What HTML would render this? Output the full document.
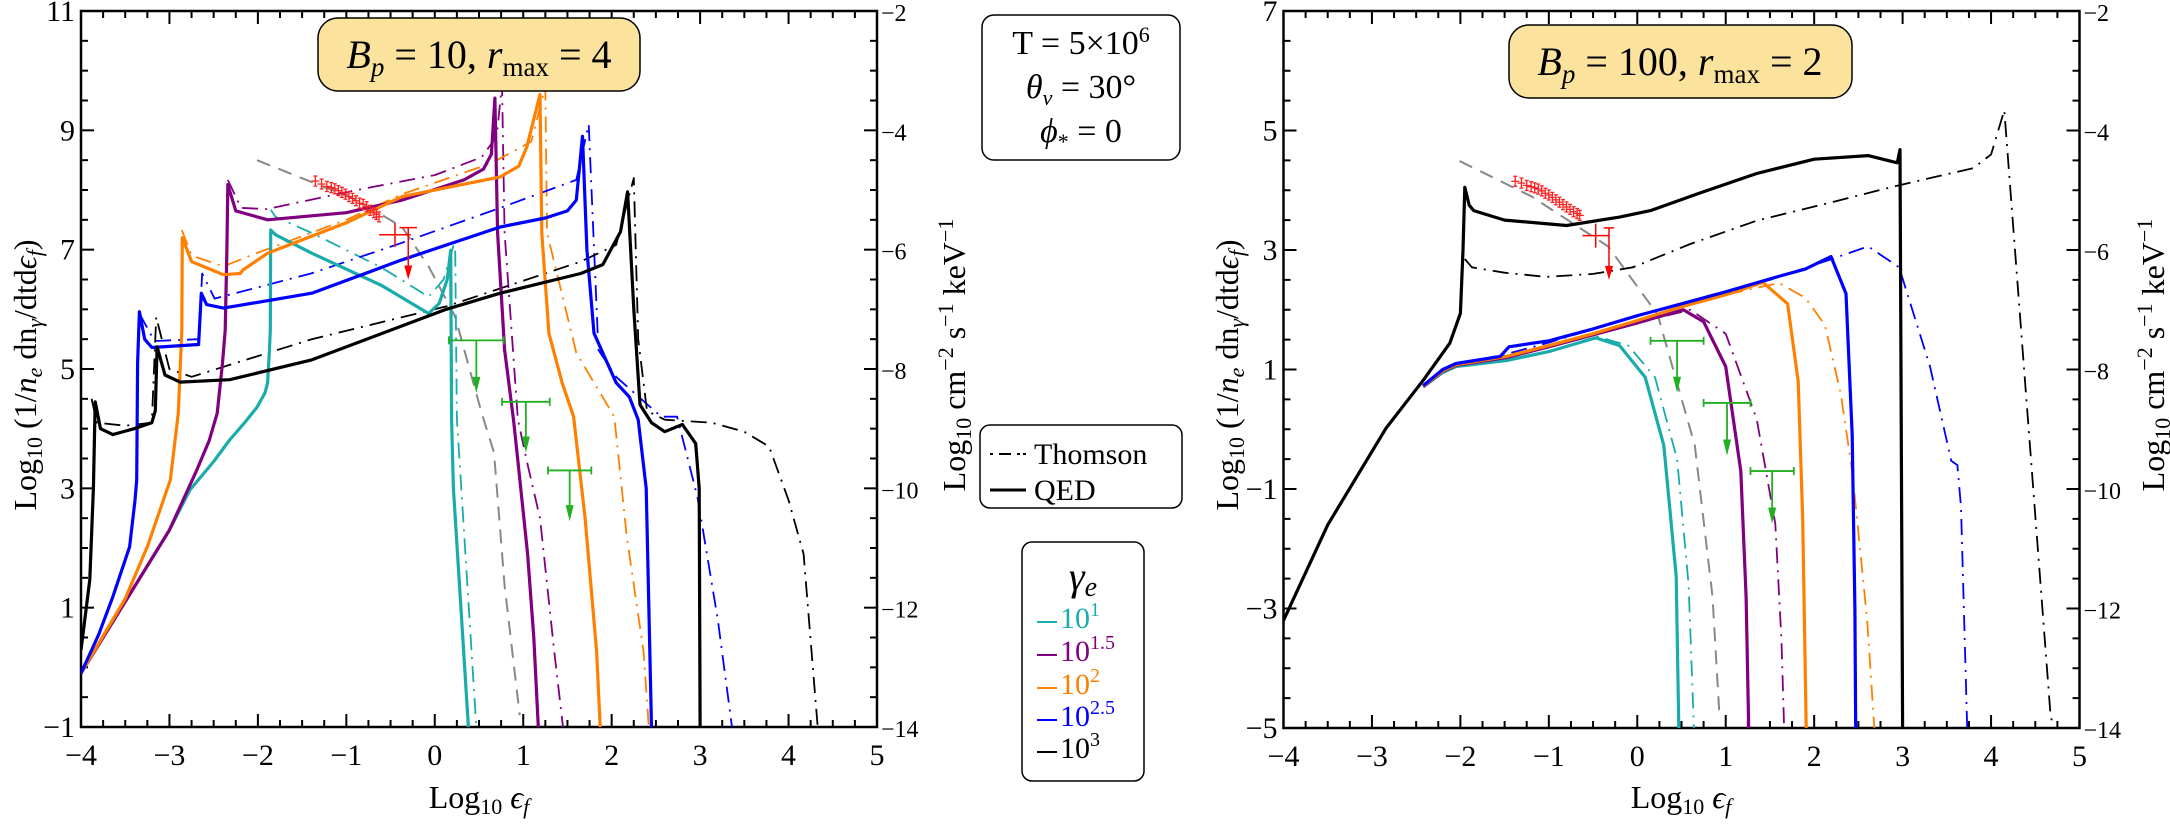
<!DOCTYPE html>
<html><head><meta charset="utf-8"><style>
html,body{margin:0;padding:0;background:#fff;}
svg text{font-family:"Liberation Serif",serif;}
</style></head><body>
<svg id="chart" xmlns="http://www.w3.org/2000/svg" width="2170" height="821" viewBox="0 0 2170 821">
<defs>
<clipPath id="clipL"><rect x="81" y="11" width="796" height="716"/></clipPath>
<clipPath id="clipR"><rect x="1283.5" y="11" width="796" height="717"/></clipPath>
</defs>
</svg>
<script>
// ---------- LEFT PANEL DATA (Bp=10, rmax=4) ----------
const L_qed_1 = [[-4,-0.1],[-3.5,1.1],[-3,2.3],[-2.77,2.97],[-2.5,3.45],[-2.32,3.81],[-2.15,4.1],[-2.01,4.36],[-1.92,4.6],[-1.89,4.77],[-1.87,5.3],[-1.86,5.65],[-1.855,7.33],[-1.8,7.25],[-1.39,6.94],[-0.6,6.4],[-0.07,5.93],[0.05,6.1],[0.14,6.5],[0.18,6.99],[0.19,4.15],[0.21,3.0],[0.38,-1]];
const L_th_1 = [[-1.855,7.67],[-1.8,7.55],[-1.39,7.28],[-0.6,6.7],[-0.07,6.21],[0.1,6.5],[0.23,7.16],[0.25,4.15],[0.3,3.0],[0.47,-1]];
const L_qed_15 = [[-4,-0.1],[-3.5,1.1],[-3,2.3],[-2.69,3.31],[-2.55,3.8],[-2.46,4.26],[-2.40,5.1],[-2.37,5.65],[-2.35,7.0],[-2.34,8.09],[-2.25,7.65],[-1.89,7.5],[-1.0,7.62],[-0.37,7.83],[0.33,8.17],[0.55,8.35],[0.64,8.6],[0.68,9.54],[0.71,7.28],[0.79,5.32],[0.89,4.15],[0.93,3.6],[1.05,1.9],[1.12,0.5],[1.17,-1]];
const L_th_15 = [[-2.34,8.17],[-2.19,7.7],[-1.9,7.68],[-0.88,8.0],[0.0,8.25],[0.53,8.55],[0.7,8.9],[0.76,9.77],[0.79,7.28],[0.94,4.15],[1.05,3.4],[1.19,2.5],[1.35,0.27],[1.45,-1]];
const L_qed_2 = [[-4,-0.1],[-3.5,1.15],[-3.25,2.02],[-2.99,3.14],[-2.9,4.26],[-2.86,5.65],[-2.855,7.2],[-2.75,6.8],[-2.39,6.58],[-2.2,6.6],[-2.17,6.66],[-1.89,6.94],[-1.0,7.45],[-0.37,7.89],[0.74,8.22],[0.95,8.4],[1.04,8.72],[1.19,9.6],[1.21,7.28],[1.29,5.6],[1.44,4.77],[1.57,4.2],[1.7,2.5],[1.83,0.27],[1.87,-1]];
const L_th_2 = [[-2.86,7.33],[-2.75,6.9],[-2.39,6.72],[-2.0,6.95],[-1.0,7.5],[-0.37,7.93],[0.64,8.45],[1.09,8.81],[1.25,9.73],[1.27,7.28],[1.6,5.27],[2.03,4.2],[2.17,2.2],[2.36,0.27],[2.42,-1]];
const L_qed_25 = [[-4,-0.1],[-3.8,0.55],[-3.64,1.18],[-3.45,2.02],[-3.39,2.8],[-3.37,3.14],[-3.36,5.1],[-3.34,5.96],[-3.28,5.5],[-3.2,5.36],[-2.67,5.41],[-2.64,6.27],[-2.58,6.08],[-2.39,6.02],[-1.39,6.27],[-0.37,6.83],[0.74,7.38],[1.25,7.53],[1.5,7.65],[1.6,7.83],[1.67,8.9],[1.72,7.0],[1.8,5.6],[2.05,4.77],[2.2,4.53],[2.3,4.15],[2.39,3.0],[2.45,-1]];
const L_th_25 = [[-3.34,5.93],[-3.17,5.47],[-2.67,5.5],[-2.63,6.6],[-2.49,6.18],[-1.4,6.6],[-0.4,7.1],[0.74,7.7],[1.6,8.17],[1.74,9.1],[1.85,5.32],[2.05,4.87],[2.56,4.2],[2.74,4.2],[2.97,2.85],[3.2,0.8],[3.36,-1]];
const L_qed_3 = [[-4,0.29],[-3.9,1.47],[-3.86,3.0],[-3.84,4.45],[-3.78,4.0],[-3.64,3.9],[-3.4,4.0],[-3.2,4.1],[-3.16,4.3],[-3.14,5.37],[-3.05,4.9],[-2.88,4.78],[-2.32,4.82],[-1.4,5.15],[0.13,6.0],[0.74,6.27],[1.65,6.6],[1.9,6.75],[2.1,7.3],[2.18,7.97],[2.25,6.0],[2.32,4.4],[2.45,4.1],[2.6,3.95],[2.8,4.07],[2.95,3.75],[2.99,3.0],[3.0,-1]];
const L_th_3 = [[-3.88,4.5],[-3.82,4.1],[-3.5,4.05],[-3.2,4.1],[-3.15,5.87],[-3.0,5.0],[-2.75,4.87],[-1.39,5.5],[0.13,6.05],[1.65,6.8],[2.05,7.08],[2.25,8.2],[2.3,5.5],[2.4,4.3],[2.6,4.15],[3.13,4.1],[3.5,3.95],[3.78,3.7],[4.0,2.8],[4.17,1.9],[4.33,-1]];
const L_gray = [[-2.01,8.5],[-0.88,7.83],[-0.37,7.38],[-0.07,6.72],[0.23,5.88],[0.53,4.26],[0.67,3.6],[0.79,1.37],[0.96,-0.8]];
const L_data_x = [-1.35,-1.28,-1.22,-1.17,-1.13,-1.09,-1.05,-1.01,-0.97,-0.93,-0.89,-0.85,-0.81,-0.77,-0.73,-0.69,-0.66,-0.63];
const L_data_y = [8.15,8.1,8.06,8.04,8.02,7.99,7.96,7.93,7.89,7.86,7.82,7.78,7.76,7.72,7.66,7.62,7.59,7.55];
const L_lim_red = [[-0.45,7.25,0.18],[-0.30,7.37,0.1]];
const L_lim_green_x0 = [0.16,0.76,1.28];
const L_lim_green_x1 = [0.78,1.30,1.77];
const L_lim_green_y = [5.48,4.45,3.3];
const L_lim_green_tip = [4.6,3.6,2.45];

// ---------- RIGHT PANEL DATA (Bp=100, rmax=2) ----------
const R_qed_3 = [[-4,-3.2],[-3.5,-1.6],[-2.84,0.02],[-2.42,0.82],[-2.12,1.44],[-2.0,1.94],[-1.97,3.0],[-1.95,4.05],[-1.9,3.75],[-1.85,3.66],[-1.5,3.5],[-0.8,3.41],[-0.2,3.55],[0.15,3.66],[0.7,3.95],[1.35,4.28],[2.0,4.52],[2.61,4.58],[2.94,4.46],[2.97,4.68],[3.0,-5]];
const R_th_3 = [[-1.95,2.85],[-1.87,2.71],[-1.5,2.62],[-1.03,2.55],[-0.5,2.6],[-0.05,2.71],[0.6,3.1],[1.35,3.49],[2.2,3.8],[2.92,4.07],[3.8,4.37],[4.0,4.6],[4.15,5.34],[4.4,0.5],[4.67,-4.73],[4.7,-5]];
const R_qed_1 = [[-2.42,0.71],[-2.2,0.95],[-2.05,1.05],[-1.48,1.15],[-1.0,1.3],[-0.47,1.53],[-0.2,1.4],[0.09,0.87],[0.3,-0.27],[0.44,-2.46],[0.47,-5]];
const R_th_1 = [[-2.42,0.71],[-2.2,0.95],[-2.05,1.05],[-1.48,1.15],[-1.0,1.3],[-0.45,1.55],[-0.1,1.4],[0.2,0.87],[0.45,-0.5],[0.58,-2.6],[0.64,-5]];
const R_qed_15 = [[-2.42,0.71],[-2.2,0.97],[-2.05,1.07],[-1.48,1.2],[-1.0,1.38],[-0.5,1.58],[0.0,1.78],[0.52,2.0],[0.75,1.8],[1.0,1.05],[1.17,-0.7],[1.23,-2.8],[1.26,-5]];
const R_th_15 = [[-2.42,0.71],[-2.2,0.97],[-2.05,1.07],[-1.48,1.2],[-1.0,1.38],[-0.5,1.58],[0.0,1.78],[0.6,2.0],[1.0,1.6],[1.35,0.17],[1.56,-1.58],[1.63,-3.5],[1.66,-5]];
const R_qed_2 = [[-2.42,0.72],[-2.2,0.98],[-2.05,1.08],[-1.48,1.22],[-1.0,1.4],[-0.5,1.6],[0.0,1.82],[0.5,2.05],[1.0,2.25],[1.42,2.46],[1.7,2.1],[1.82,0.8],[1.87,-1.5],[1.91,-5]];
const R_th_2 = [[-2.42,0.72],[-2.2,0.98],[-2.05,1.08],[-1.48,1.22],[-1.0,1.4],[-0.5,1.6],[0.0,1.82],[0.5,2.05],[1.0,2.25],[1.6,2.45],[1.9,2.2],[2.12,1.75],[2.3,0.6],[2.43,-0.7],[2.6,-3.2],[2.68,-5]];
const R_qed_25 = [[-2.42,0.73],[-2.2,1.0],[-2.05,1.1],[-1.55,1.22],[-1.45,1.38],[-1.0,1.48],[-0.5,1.68],[0.0,1.9],[0.5,2.1],[1.0,2.3],[1.65,2.58],[1.9,2.68],[2.19,2.89],[2.36,2.27],[2.43,-0.1],[2.46,-3],[2.47,-5]];
const R_th_25 = [[-2.42,0.73],[-2.2,1.0],[-2.0,1.1],[-1.5,1.25],[-1.0,1.45],[-0.5,1.68],[0.0,1.9],[0.5,2.1],[1.0,2.3],[1.5,2.5],[2.2,2.85],[2.61,3.06],[2.96,2.71],[3.31,1.05],[3.55,-0.53],[3.62,-0.6],[3.66,-1.3],[3.73,-5]];
const R_gray = [[-2.01,4.49],[-1.2,3.9],[-0.33,3.06],[0.23,1.92],[0.65,-0.27],[0.85,-2.8],[0.93,-4.8]];
const R_data_x = [-1.38,-1.31,-1.25,-1.2,-1.16,-1.12,-1.08,-1.04,-1.0,-0.96,-0.92,-0.88,-0.84,-0.8,-0.76,-0.72,-0.68,-0.65];
const R_data_y = [4.15,4.12,4.08,4.06,4.04,4.02,3.99,3.95,3.92,3.88,3.84,3.8,3.76,3.72,3.68,3.64,3.61,3.58];
const R_lim_red = [[-0.47,3.24,0.15],[-0.32,3.37,0.06]];
const R_lim_green_x0 = [0.15,0.75,1.28];
const R_lim_green_x1 = [0.75,1.28,1.77];
const R_lim_green_y = [1.48,0.44,-0.7];
const R_lim_green_tip = [0.61,-0.44,-1.58];

const xTicks = [-4,-3,-2,-1,0,1,2,3,4,5];
const yTicksL = [-1,1,3,5,7,9,11];
const yTicksR = [-5,-3,-1,1,3,5,7];
const rTicksLabels = [-14,-12,-10,-8,-6,-4,-2];

const C = {c1:'#1aabab',c15:'#800080',c2:'#ff8000',c25:'#0000ff',c3:'#000000'};
const NS='http://www.w3.org/2000/svg';
const svg=document.getElementById('chart');
function el(tag,attrs,parent){const e=document.createElementNS(NS,tag);for(const k in attrs)e.setAttribute(k,attrs[k]);(parent||svg).appendChild(e);return e;}

function makePanel(px0,py0,w,h,ymin,ymax,rOffset,prefix,clip){
  const sx=v=>px0+(v+4)/9*w;
  const sy=v=>py0+(ymax-v)/(ymax-ymin)*h;
  const g=el('g',{});
  
  
  const axes=el('g',{stroke:'#000','stroke-width':2,fill:'none'},g);
  
  
  el('rect',{x:px0,y:py0,width:w,height:h,'stroke-width':2.5},axes);
  for(let v=-4;v<=5.001;v+=0.25){
    const major=Math.abs(v-Math.round(v))<1e-6;
    const L=major?13:7;
    el('line',{x1:sx(v),x2:sx(v),y1:py0+h,y2:py0+h-L},axes);
    el('line',{x1:sx(v),x2:sx(v),y1:py0,y2:py0+L},axes);
  }
  for(let v=ymin;v<=ymax+0.001;v+=0.5){
    const major=Math.abs((v-ymin)/2-Math.round((v-ymin)/2))<1e-6;
    const L=major?13:7;
    el('line',{x1:px0,x2:px0+L,y1:sy(v),y2:sy(v)},axes);
    el('line',{x1:px0+w,x2:px0+w-L,y1:sy(v),y2:sy(v)},axes);
  }
  const tl=el('g',{'font-size':30,fill:'#000'},g);
  
  
  xTicks.forEach(v=>{const t=el('text',{x:sx(v),y:py0+h+38,'text-anchor':'middle'},tl);t.textContent=(v<0?'\u2212'+(-v):v);
    
    });
  const yt = ymin===-1?yTicksL:yTicksR;
  yt.forEach(v=>{const t=el('text',{x:px0-6,y:sy(v)+10,'text-anchor':'end'},tl);t.textContent=(v<0?'\u2212'+(-v):v);
    
    });
  rTicksLabels.forEach(v=>{const t=el('text',{x:px0+w+4,y:sy(v+rOffset)+10,'text-anchor':'start','font-size':24},tl);t.textContent='\u2212'+(-v);
    
    });
  const plot=el('g',{'clip-path':'url(#'+clip+')',fill:'none'},g);
  
  
  return {sx,sy,plot};
}
function line(P,pts,color,style,name){
  const d=pts.map((p,i)=>(i?'L':'M')+P.sx(p[0]).toFixed(1)+' '+P.sy(p[1]).toFixed(1)).join(' ');
  const a={d:d,stroke:color,'stroke-linejoin':'round'};
  if(style==='solid'){a['stroke-width']=3.2;}
  else if(style==='dd'){a['stroke-width']=1.8;a['stroke-dasharray']='16 7 2 7';}
  else {a['stroke-width']=2;a['stroke-dasharray']='14 9';}
  const p=el('path',a,P.plot);
  
  
}
function dataPts(P,xs,ys,name){
  const g=el('g',{stroke:'#ff2020','stroke-width':1.3},P.plot);
  
  
  xs.forEach((x,i)=>{const cx=P.sx(x),cy=P.sy(ys[i]);
    el('line',{x1:cx-4,x2:cx+4,y1:cy,y2:cy},g);el('line',{x1:cx,x2:cx,y1:cy-5,y2:cy+5},g);
    el('line',{x1:cx-2,x2:cx+2,y1:cy-5,y2:cy-5},g);el('line',{x1:cx-2,x2:cx+2,y1:cy+5,y2:cy+5},g);});
}
function redLims(P,lims,tipY,name){
  const g=el('g',{stroke:'#ff0000','stroke-width':1.5,fill:'#ff0000'},P.plot);
  
  
  const a=lims[0],b=lims[1];
  let cx=P.sx(a[0]),cy=P.sy(a[1]);
  el('line',{x1:P.sx(a[0]-a[2]),x2:P.sx(a[0]+a[2]),y1:cy,y2:cy},g);
  el('line',{x1:cx,x2:cx,y1:cy-12,y2:cy+12},g);
  cx=P.sx(b[0]);cy=P.sy(b[1]);
  el('line',{x1:P.sx(b[0]-b[2]),x2:P.sx(b[0]+b[2]),y1:cy,y2:cy},g);
  const ty=P.sy(tipY);
  el('line',{x1:cx,x2:cx,y1:cy,y2:ty-12},g);
  el('path',{d:`M${cx-4} ${ty-14} L${cx+4} ${ty-14} L${cx} ${ty} Z`,stroke:'none'},g);
}
function greenLims(P,x0,x1,y,tip,name){
  const g=el('g',{stroke:'#22b022','stroke-width':1.8,fill:'#22b022'},P.plot);
  
  
  y.forEach((yy,i)=>{const a=P.sx(x0[i]),b=P.sx(x1[i]),cy=P.sy(yy),cx=(a+b)/2,ty=P.sy(tip[i]);
    el('line',{x1:a,x2:b,y1:cy,y2:cy},g);el('line',{x1:a,x2:a,y1:cy-4,y2:cy+4},g);el('line',{x1:b,x2:b,y1:cy-4,y2:cy+4},g);
    el('line',{x1:cx,x2:cx,y1:cy,y2:ty-12},g);
    el('path',{d:`M${cx-4} ${ty-16} L${cx+4} ${ty-16} L${cx} ${ty} Z`,stroke:'none'},g);});
}

// LEFT
const PL=makePanel(81,11,796,716,-1,11,13,'left','clipL');
line(PL,L_gray,'#888','dash','left-gray-dashed');
line(PL,L_th_1,C.c1,'dd','left-thomson-g1');line(PL,L_th_15,C.c15,'dd','left-thomson-g1-5');
line(PL,L_th_2,C.c2,'dd','left-thomson-g2');line(PL,L_th_25,C.c25,'dd','left-thomson-g2-5');line(PL,L_th_3,C.c3,'dd','left-thomson-g3');
line(PL,L_qed_1,C.c1,'solid','left-qed-g1');line(PL,L_qed_15,C.c15,'solid','left-qed-g1-5');
line(PL,L_qed_2,C.c2,'solid','left-qed-g2');line(PL,L_qed_25,C.c25,'solid','left-qed-g2-5');line(PL,L_qed_3,C.c3,'solid','left-qed-g3');
dataPts(PL,L_data_x,L_data_y,'left-red-data');
redLims(PL,L_lim_red,6.5,'left-red-upper-limit');
greenLims(PL,L_lim_green_x0,L_lim_green_x1,L_lim_green_y,L_lim_green_tip,'left-green-upper-limits');

// RIGHT
const PR=makePanel(1283.5,11,796,717,-5,7,9,'right','clipR');
line(PR,R_gray,'#888','dash','right-gray-dashed');
line(PR,R_th_1,C.c1,'dd','right-thomson-g1');line(PR,R_th_15,C.c15,'dd','right-thomson-g1-5');
line(PR,R_th_2,C.c2,'dd','right-thomson-g2');line(PR,R_th_25,C.c25,'dd','right-thomson-g2-5');line(PR,R_th_3,C.c3,'dd','right-thomson-g3');
line(PR,R_qed_1,C.c1,'solid','right-qed-g1');line(PR,R_qed_15,C.c15,'solid','right-qed-g1-5');
line(PR,R_qed_2,C.c2,'solid','right-qed-g2');line(PR,R_qed_25,C.c25,'solid','right-qed-g2-5');line(PR,R_qed_3,C.c3,'solid','right-qed-g3');
dataPts(PR,R_data_x,R_data_y,'right-red-data');
redLims(PR,R_lim_red,2.5,'right-red-upper-limit');
greenLims(PR,R_lim_green_x0,R_lim_green_x1,R_lim_green_y,R_lim_green_tip,'right-green-upper-limits');
</script>
<svg style="position:absolute;left:0;top:0" width="2170" height="821">
<g font-family="Liberation Serif, serif" fill="#000">
<text transform="translate(36,375) rotate(-90)" text-anchor="middle" font-size="32">Log<tspan font-size="22" dy="6">10</tspan><tspan dy="-6"> (1/</tspan><tspan font-style="italic">n</tspan><tspan font-size="22" font-style="italic" dy="6">e</tspan><tspan dy="-6"> dn</tspan><tspan font-size="22" font-style="italic" dy="6">γ</tspan><tspan dy="-6">/dtd</tspan><tspan font-style="italic">ϵ</tspan><tspan font-size="22" font-style="italic" dy="6">f</tspan><tspan dy="-6">)</tspan></text>
<text transform="translate(965,355) rotate(-90)" text-anchor="middle" font-size="32">Log<tspan font-size="22" dy="6">10</tspan><tspan dy="-6"> cm</tspan><tspan font-size="22" dy="-12">−2</tspan><tspan dy="12"> s</tspan><tspan font-size="22" dy="-12">−1</tspan><tspan dy="12"> keV</tspan><tspan font-size="22" dy="-12">−1</tspan></text>
<text x="479" y="808" text-anchor="middle" font-size="32">Log<tspan font-size="22" dy="6">10</tspan><tspan dy="-6"> </tspan><tspan font-style="italic">ϵ</tspan><tspan font-size="22" font-style="italic" dy="6">f</tspan></text>
<text transform="translate(1238,375) rotate(-90)" text-anchor="middle" font-size="32">Log<tspan font-size="22" dy="6">10</tspan><tspan dy="-6"> (1/</tspan><tspan font-style="italic">n</tspan><tspan font-size="22" font-style="italic" dy="6">e</tspan><tspan dy="-6"> dn</tspan><tspan font-size="22" font-style="italic" dy="6">γ</tspan><tspan dy="-6">/dtd</tspan><tspan font-style="italic">ϵ</tspan><tspan font-size="22" font-style="italic" dy="6">f</tspan><tspan dy="-6">)</tspan></text>
<text transform="translate(2164,355) rotate(-90)" text-anchor="middle" font-size="32">Log<tspan font-size="22" dy="6">10</tspan><tspan dy="-6"> cm</tspan><tspan font-size="22" dy="-12">−2</tspan><tspan dy="12"> s</tspan><tspan font-size="22" dy="-12">−1</tspan><tspan dy="12"> keV</tspan><tspan font-size="22" dy="-12">−1</tspan></text>
<text x="1681" y="808" text-anchor="middle" font-size="32">Log<tspan font-size="22" dy="6">10</tspan><tspan dy="-6"> </tspan><tspan font-style="italic">ϵ</tspan><tspan font-size="22" font-style="italic" dy="6">f</tspan></text>
</g>
<g>
<rect x="318" y="18" width="322" height="73" rx="20" fill="#fbe39d" stroke="#000" stroke-width="1.5"/>
<text x="479" y="68" text-anchor="middle" font-family="Liberation Serif, serif" font-size="40"><tspan font-style="italic">B</tspan><tspan font-size="27" font-style="italic" dy="8">p</tspan><tspan dy="-8"> = 10,    </tspan><tspan font-style="italic">r</tspan><tspan font-size="27" dy="8">max</tspan><tspan dy="-8"> = 4</tspan></text>
</g>
<g>
<rect x="1509" y="25" width="343" height="73" rx="20" fill="#fbe39d" stroke="#000" stroke-width="1.5"/>
<text x="1680" y="75" text-anchor="middle" font-family="Liberation Serif, serif" font-size="40"><tspan font-style="italic">B</tspan><tspan font-size="27" font-style="italic" dy="8">p</tspan><tspan dy="-8"> = 100,    </tspan><tspan font-style="italic">r</tspan><tspan font-size="27" dy="8">max</tspan><tspan dy="-8"> = 2</tspan></text>
</g>
<g font-family="Liberation Serif, serif" font-size="34" text-anchor="middle">
<rect x="982" y="15" width="198" height="145" rx="12" fill="#fff" stroke="#000" stroke-width="1.5"/>
<text x="1081" y="54">T = 5×10<tspan font-size="22" dy="-12">6</tspan></text>
<text x="1081" y="98"><tspan font-style="italic">θ</tspan><tspan font-size="22" font-style="italic" dy="7">v</tspan><tspan dy="-7"> = 30°</tspan></text>
<text x="1081" y="142"><tspan font-style="italic">ϕ</tspan><tspan font-size="22" dy="7">*</tspan><tspan dy="-7"> = 0</tspan></text>
</g>
<g font-family="Liberation Sans, sans-serif" font-size="30">
<rect x="980" y="425" width="202" height="83" rx="10" fill="#fff" stroke="#000" stroke-width="1.5"/>
<line x1="990" y1="454" x2="1026" y2="454" stroke="#000" stroke-width="2" stroke-dasharray="3 6 12 6 3"/>
<text x="1034" y="464">Thomson</text>
<line x1="990" y1="490" x2="1026" y2="490" stroke="#000" stroke-width="3"/>
<text x="1034" y="500">QED</text>
</g>
<g font-family="Liberation Serif, serif" font-size="30">
<rect x="1022" y="542" width="122" height="239" rx="10" fill="#fff" stroke="#000" stroke-width="1.5"/>
<text x="1083" y="590" text-anchor="middle" font-size="40" font-style="italic">γ<tspan font-size="28" dy="6">e</tspan></text>
<g><line x1="1037" y1="622" x2="1057" y2="622" stroke="#1aabab" stroke-width="2"/><text x="1060" y="628" fill="#1aabab">10<tspan font-size="20" dy="-12">1</tspan></text></g>
<g><line x1="1037" y1="655" x2="1057" y2="655" stroke="#800080" stroke-width="2"/><text x="1060" y="661" fill="#800080">10<tspan font-size="20" dy="-12">1.5</tspan></text></g>
<g><line x1="1037" y1="688" x2="1057" y2="688" stroke="#ff8000" stroke-width="2"/><text x="1060" y="694" fill="#ff8000">10<tspan font-size="20" dy="-12">2</tspan></text></g>
<g><line x1="1037" y1="720" x2="1057" y2="720" stroke="#0000ff" stroke-width="2"/><text x="1060" y="726" fill="#0000ff">10<tspan font-size="20" dy="-12">2.5</tspan></text></g>
<g><line x1="1037" y1="752" x2="1057" y2="752" stroke="#000" stroke-width="2"/><text x="1060" y="758" fill="#000">10<tspan font-size="20" dy="-12">3</tspan></text></g>
</g>
</svg>
</body></html>
